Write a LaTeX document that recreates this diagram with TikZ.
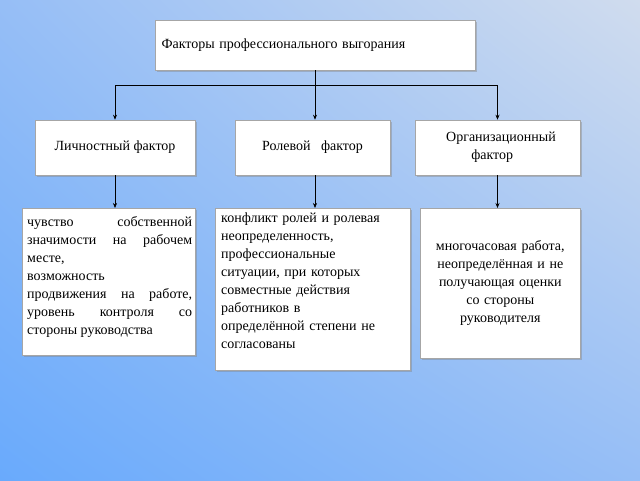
\documentclass[tikz,border=0pt]{standalone}
\usepackage{fontspec}
\setmainfont{Liberation Serif}
\usetikzlibrary{shadows,shadings,arrows.meta}
\definecolor{bgA}{RGB}{208,220,238}
\definecolor{bgB}{RGB}{105,170,252}
\definecolor{bgC}{RGB}{150,190,246}
\begin{document}
\begin{tikzpicture}[x=1pt,y=-1pt,
  box/.style={draw=gray!70,fill=white,line width=0.6pt,drop shadow={shadow xshift=1.5pt,shadow yshift=-1.5pt,opacity=0.4},inner sep=4pt,font=\fontsize{14}{18}\selectfont},
  txt/.style={inner sep=0pt,font=\fontsize{14}{18}\selectfont},
  conn/.style={line width=0.6pt,-{Stealth[length=5pt,width=4pt]}}]
\shade[upper right=bgA,upper left=bgC,lower left=bgB,lower right=bgC] (0,0) rectangle (640,480);
\useasboundingbox (0,0) rectangle (640,480);
\node[box,minimum width=320,minimum height=50,text width=307,align=left] (top) at (315,45) {Факторы профессионального выгорания};
\node[box,minimum width=160,minimum height=55] (l) at (115,147.5) {Личностный фактор};
\node[box,minimum width=155,minimum height=55] (m) at (312.5,147.5) {Ролевой\ \ \ фактор};
\node[box,minimum width=165,minimum height=55,align=center] (r) at (497.5,147.5) {\ \ Организационный\\фактор\ \ \ \ };
\node[box,anchor=north west,minimum width=173,minimum height=147] (l2) at (22,208) {};
\node[txt,anchor=north west,text width=165,align=justify] (l2t) at (27,216) {чувство собственной\linebreak значимости на рабочем\linebreak месте,\\возможность\\продвижения на работе,\linebreak уровень контроля со\linebreak стороны руководства};
\node[box,anchor=north west,minimum width=195,minimum height=162] (m2) at (215,208) {};
\node[txt,anchor=north west,text width=187,align=left] (m2t) at (221,213) {конфликт ролей и ролевая\\неопределенность,\\профессиональные\\ситуации, при которых\\совместные действия\\работников в\\определённой степени не\\согласованы};
\node[box,anchor=north west,minimum width=160,minimum height=150,text width=152,align=center] (r2) at (420,208) {многочасовая работа,\\неопределённая и не\\получающая оценки\\со стороны\\руководителя};
\coordinate (j) at (315,85);
\draw[line width=0.6pt] (top.south) -- (j);
\draw[conn] (j) -| (l.north);
\draw[conn] (j) -- (m.north -| j);
\draw[conn] (j) -| (r.north);
\draw[conn] (l.south) -- (l2.north -| l.south);
\draw[conn] (m.south -| j) -- (m2.north -| j);
\draw[conn] (r.south) -- (r2.north -| r.south);
\end{tikzpicture}
\end{document}
